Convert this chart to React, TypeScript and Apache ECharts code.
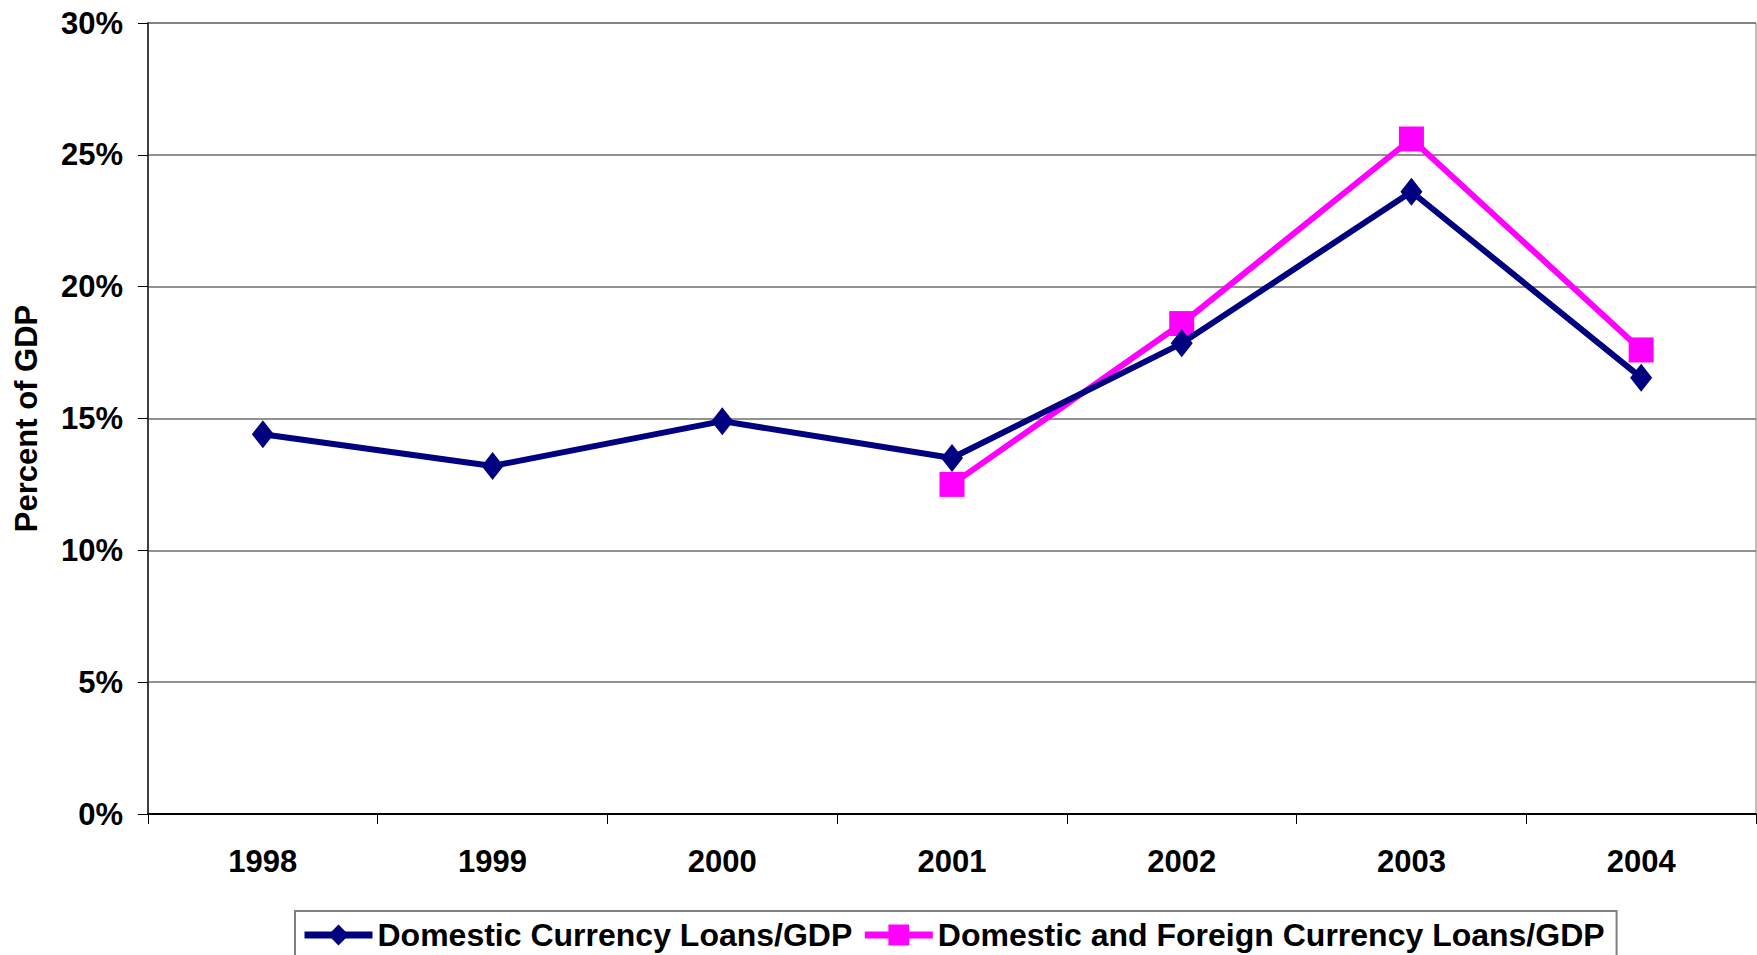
import React, { useEffect, useRef } from "react";
import * as echarts from "echarts";

const years = ["1998", "1999", "2000", "2001", "2002", "2003", "2004"];
const domesticLoans = [14.4, 13.2, 14.9, 13.5, 17.85, 23.6, 16.55];
const domesticForeignLoans = [null, null, null, 12.5, 18.6, 25.6, 17.6];
const seriesNames = ["Domestic Currency Loans/GDP", "Domestic and Foreign Currency Loans/GDP"];

const FONT = "'Liberation Sans', Arial, sans-serif";

export default function App() {
  const ref = useRef<HTMLDivElement>(null);
  useEffect(() => {
    document.body.style.margin = "0";
    const chart = echarts.init(ref.current!, null, { renderer: "svg" });
    chart.setOption({
      animation: false,
      backgroundColor: "#ffffff",
      textStyle: { fontFamily: FONT },
      grid: {
        left: 148,
        right: 1,
        top: 23,
        bottom: 141,
        show: true,
        borderColor: "#808080",
        borderWidth: 1,
        backgroundColor: "transparent",
      },
      legend: {
        left: 295,
        top: 911,
        padding: [8, 12, 8, 6],
        borderColor: "#808080",
        borderWidth: 2,
        itemWidth: 68,
        itemHeight: 26,
        itemGap: 9,
        lineStyle: { width: 7 },
        textStyle: { fontSize: 32, fontWeight: "bold", color: "#000", fontFamily: FONT },
        data: seriesNames,
      },
      xAxis: {
        type: "category",
        data: years,
        boundaryGap: true,
        axisLine: { lineStyle: { color: "#000", width: 2 } },
        axisTick: { show: true, length: 10, lineStyle: { color: "#000", width: 1 } },
        axisLabel: { margin: 32, fontSize: 31, fontWeight: "bold", color: "#000", fontFamily: FONT },
      },
      yAxis: {
        type: "value",
        min: 0,
        max: 30,
        interval: 5,
        name: "Percent of GDP",
        nameLocation: "middle",
        nameGap: 106,
        nameTextStyle: { fontSize: 31, fontWeight: "bold", color: "#000", fontFamily: FONT },
        axisLine: { show: true, lineStyle: { color: "#404040", width: 2 } },
        axisTick: { show: true, length: 10, lineStyle: { color: "#000", width: 1 } },
        axisLabel: {
          margin: 25,
          fontSize: 31,
          fontWeight: "bold",
          color: "#000",
          fontFamily: FONT,
          formatter: "{value}%",
        },
        splitLine: { show: true, lineStyle: { color: "#6e6e6e", width: 1.5 } },
      },
      series: [
        {
          name: seriesNames[0],
          type: "line",
          data: domesticLoans,
          symbol: "diamond",
          symbolSize: [22, 28],
          lineStyle: { color: "#000080", width: 6 },
          itemStyle: { color: "#000080" },
          z: 3,
        },
        {
          name: seriesNames[1],
          type: "line",
          data: domesticForeignLoans,
          symbol: "rect",
          symbolSize: 25,
          lineStyle: { color: "#ff00ff", width: 6 },
          itemStyle: { color: "#ff00ff" },
          z: 2,
        },
      ],
    });
    return () => chart.dispose();
  }, []);
  return <div ref={ref} style={{ width: 1757, height: 955 }} />;
}
